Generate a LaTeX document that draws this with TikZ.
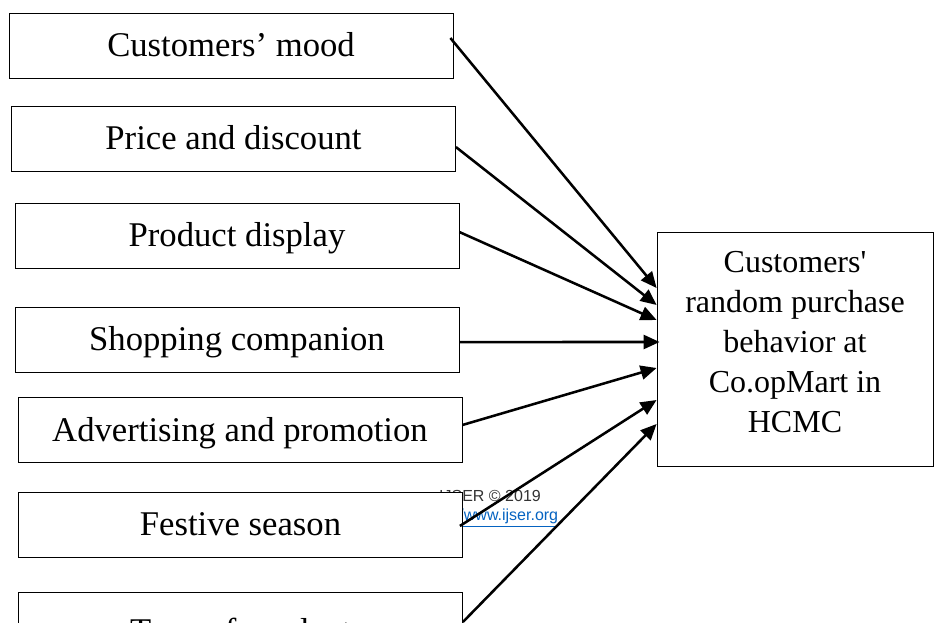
\documentclass[tikz,border=0pt]{standalone}
\usepackage{fontspec}
\setmainfont{Liberation Serif}
\newfontfamily\wmfont{Liberation Sans}
\usetikzlibrary{arrows.meta}
\definecolor{linkblue}{HTML}{0563C1}

\begin{document}
\begin{tikzpicture}[
  x=0.75pt, y=-0.75pt,
  factor/.style={draw, line width=0.6pt, fill=white, minimum width=333pt, minimum height=48.75pt, inner sep=0pt, font=\fontsize{26}{30}\selectfont, text height=17pt, text depth=0pt},
  outcome/.style={draw, line width=0.6pt, fill=white, minimum width=207pt, minimum height=175.5pt, align=center, font=\fontsize{24}{30}\selectfont},
  watermark/.style={inner sep=0pt, font=\wmfont\fontsize{12}{14}\selectfont, text=black!80},
  arrow/.style={-{Triangle[length=12pt, width=10.5pt]}, line width=1.9pt}
]
  \useasboundingbox (0,0) rectangle (934,623);
  \clip (0,0) rectangle (934,623);

  \node[watermark] (wmyear) at (490,496) {IJSER © 2019};
  \node[watermark, text=linkblue] (wmurl) at (491,518) {\underline{http://www.ijser.org}};

  \node[factor] (mood) at (231,45.5) {Customers’ mood};
  \node[factor] (price) at (233.5,138.5) {Price and discount};
  \node[factor] (display) at (237,235.5) {Product display};
  \node[factor] (companion) at (237,339.5) {Shopping companion};
  \node[factor] (advert) at (240,430) {Advertising and promotion};
  \node[factor] (festive) at (240.5,524.5) {Festive season};
  \node[factor, minimum height=58.5pt] (ptype) at (240.5,631) {Type of product};
  \node[outcome] (behavior) at (795,349) {Customers\textquotesingle\\random purchase\\behavior at\\Co.opMart in\\HCMC\rule[-10.5pt]{0pt}{10.5pt}};

  \draw[arrow] ([xshift=-2.25pt, yshift=5.6pt]mood.east) -- ([yshift=45.75pt]behavior.west);
  \draw[arrow] ([yshift=-6.4pt]price.east) -- ([yshift=33pt]behavior.west);
  \draw[arrow] ([yshift=2.6pt]display.east) -- ([yshift=21.75pt]behavior.west);
  \draw[arrow] ([yshift=-1.9pt]companion.east) -- ([xshift=2.25pt, yshift=5.25pt]behavior.west);
  \draw[arrow] ([yshift=3.75pt]advert.east) -- ([yshift=-14.25pt]behavior.west);
  \draw[arrow] ([xshift=-2.25pt, yshift=-1.1pt]festive.east) -- ([yshift=-38.25pt]behavior.west);
  \draw[arrow] ([yshift=6.75pt]ptype.east) -- ([yshift=-56.25pt]behavior.west);
\end{tikzpicture}
\end{document}
